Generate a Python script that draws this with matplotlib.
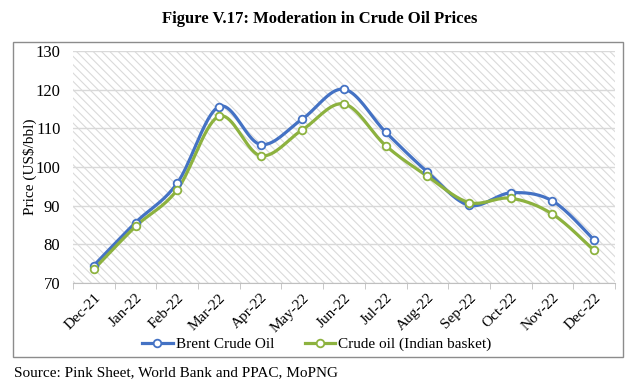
import numpy as np
import matplotlib
matplotlib.use("Agg")
import matplotlib.pyplot as plt
from matplotlib.patches import Rectangle

plt.rcParams['font.family'] = ['Liberation Serif', 'DejaVu Serif']
plt.rcParams['hatch.color'] = '#dadada'
plt.rcParams['hatch.linewidth'] = 0.8

months = ['Dec-21', 'Jan-22', 'Feb-22', 'Mar-22', 'Apr-22', 'May-22', 'Jun-22',
          'Jul-22', 'Aug-22', 'Sep-22', 'Oct-22', 'Nov-22', 'Dec-22']
brent = [74.5, 85.6, 95.8, 115.6, 105.8, 112.4, 120.1, 109.0, 98.7, 90.1, 93.3, 91.2, 81.1]
indian = [73.5, 84.6, 94.1, 113.1, 102.9, 109.6, 116.3, 105.5, 97.6, 90.8, 91.9, 87.8, 78.4]


def smooth(y, n=20):
    # catmull-rom curve through the points, like Excel's smoothed line
    y = np.asarray(y, float)
    x = np.arange(len(y), dtype=float)
    px = np.concatenate([[x[0]], x, [x[-1]]])
    py = np.concatenate([[y[0]], y, [y[-1]]])
    xs, ys = [], []
    t = np.linspace(0, 1, n)
    for i in range(1, len(px) - 2):
        for p, out in ((px, xs), (py, ys)):
            p0, p1, p2, p3 = p[i - 1], p[i], p[i + 1], p[i + 2]
            out.extend(0.5 * (2 * p1 + (-p0 + p2) * t + (2 * p0 - 5 * p1 + 4 * p2 - p3) * t ** 2
                              + (-p0 + 3 * p1 - 3 * p2 + p3) * t ** 3))
    return xs, ys


fig = plt.figure(figsize=(6.4, 3.86), dpi=100)
ax = fig.add_axes([0.114, 0.267, 0.847, 0.601])

fig.patches.append(Rectangle((0.021, 0.075), 0.952, 0.816, transform=fig.transFigure,
                             fill=False, edgecolor='#8c8c8c', linewidth=1.0))

ax.add_patch(Rectangle((0, 0), 1, 1, transform=ax.transAxes, facecolor='white',
                       hatch='\\\\\\\\', edgecolor='#dadada', linewidth=0, zorder=0))

x = np.arange(len(months))
series = [(brent, '#4472c4', 'Brent Crude Oil'), (indian, '#8db23f', 'Crude oil (Indian basket)')]
for y, c, lab in series:
    sx, sy = smooth(y)
    ax.plot(sx, sy, color=c, linewidth=2.3, zorder=3)
    ax.plot(x, y, linestyle='none', marker='o', markersize=5.5, markerfacecolor='white',
            markeredgecolor=c, markeredgewidth=1.3, zorder=4)
    ax.plot([], [], color=c, linewidth=2.3, marker='o', markersize=5.5,
            markerfacecolor='white', markeredgecolor=c, markeredgewidth=1.3, label=lab)

ax.set_xlim(-0.5, len(months) - 0.5)
ax.set_ylim(70, 130)
ax.set_yticks(range(70, 131, 10))
ax.set_xticks(x)
ax.set_xticklabels(months, rotation=45, ha='right', rotation_mode='anchor', fontsize=11)
ax.set_xticks(np.arange(-0.5, len(months), 1), minor=True)
ax.tick_params(axis='x', which='major', length=0, pad=6)
ax.tick_params(axis='x', which='minor', length=4, color='#bfbfbf')
ax.tick_params(axis='y', length=0, labelsize=12, pad=9)
ax.yaxis.grid(True, color='#d9d9d9', linewidth=1.0)
ax.set_axisbelow(True)
for s in ['top', 'right', 'left']:
    ax.spines[s].set_visible(False)
ax.spines['bottom'].set_color('#bfbfbf')
ax.set_ylabel('Price (US$/bbl)', fontsize=11, labelpad=-1)

ax.legend(loc='center', bbox_to_anchor=(0.45, -0.265), ncol=2, frameon=False, fontsize=11,
          handlelength=2.0, handletextpad=0.2, columnspacing=2.0)

fig.text(0.5, 0.952, 'Figure V.17: Moderation in Crude Oil Prices', ha='center', va='center',
         fontsize=12, fontweight='bold')
fig.text(0.022, 0.035, 'Source: Pink Sheet, World Bank and PPAC, MoPNG', ha='left', va='center',
         fontsize=11)

fig.savefig('out.png', dpi=100)
